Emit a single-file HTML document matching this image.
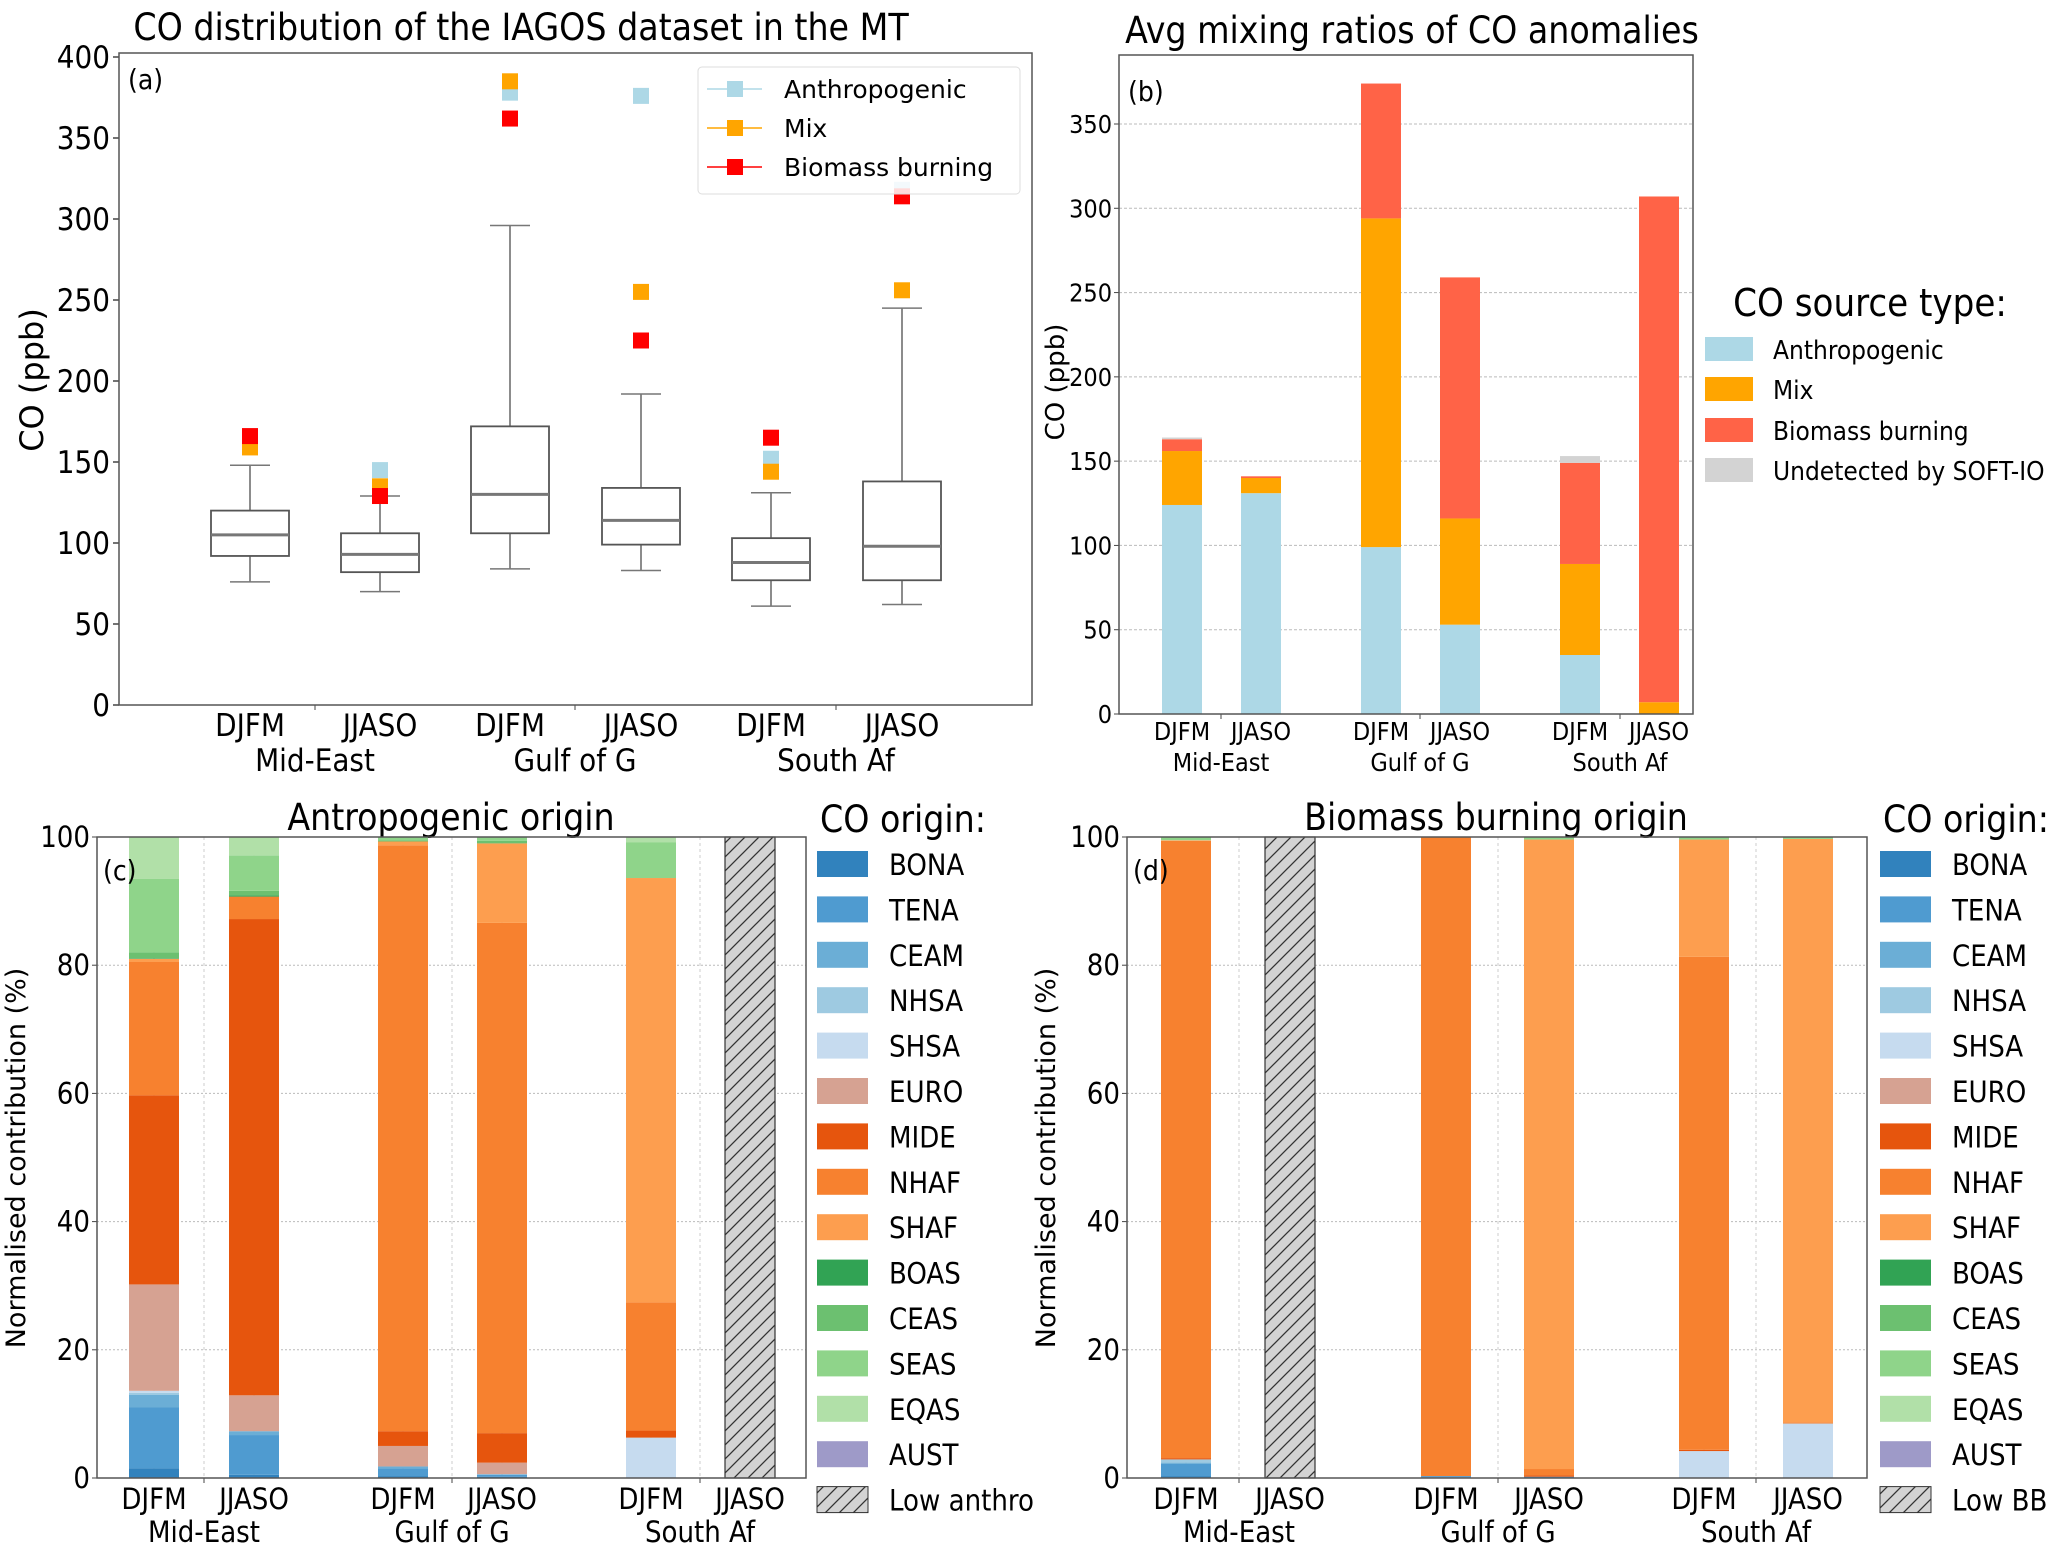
<!DOCTYPE html>
<html><head><meta charset="utf-8"><style>
html,body{margin:0;padding:0;background:#fff;}
svg{display:block;}
text{font-family:"Liberation Sans Narrow","DejaVu Sans Condensed","Liberation Sans",sans-serif;fill:#000;}
.dv{font-family:"DejaVu Sans","Liberation Sans",sans-serif;}
</style></head><body>
<svg id="fig" width="2067" height="1559" viewBox="0 0 2067 1559" xmlns="http://www.w3.org/2000/svg">
<defs>
<pattern id="hatch" patternUnits="userSpaceOnUse" width="14" height="14" patternTransform="rotate(0)">
<rect width="14" height="14" fill="#d3d3d3"/>
<path d="M-2,16 L16,-2 M-9,9 L9,-9 M5,23 L23,5" stroke="#333" stroke-width="1.3"/>
</pattern>
</defs>
<g id="pa"></g>
<g id="pb"></g>
<g id="pc"></g>
<g id="pd"></g>
</svg>
<script>
// ---------- shared data ----------
const categories = ["DJFM","JJASO","DJFM","JJASO","DJFM","JJASO"];
const groups = ["Mid-East","Gulf of G","South Af"];
// Panel a: box stats
const boxWhiskLow = [76,70,84,83,61,62];
const boxQ1 = [92,82,106,99,77,77];
const boxMedian = [105,93,130,114,88,98];
const boxQ3 = [120,106,172,134,103,138];
const boxWhiskHigh = [148,129,296,192,131,245];
const outAnthro = [null,145,378,376,152,318];
const outMix = [159,135,385,255,144,256];
const outBB = [166,129,362,225,165,314];
const aTicks = [0,50,100,150,200,250,300,350,400];
// Panel b
const bAnthro = [124,131,99,53,35,0];
const bMix = [32,9,195,63,54,7];
const bBB = [7,1,80,143,60,300];
const bUndet = [1,0,0,0,4,0];
const bTicks = [0,50,100,150,200,250,300,350];
// Panels c, d
const regions = ["BONA","TENA","CEAM","NHSA","SHSA","EURO","MIDE","NHAF","SHAF","BOAS","CEAS","SEAS","EQAS","AUST"];
const regionColors = ["#3182bd","#4f9bd0","#6baed6","#9ecae1","#c6dbef","#d6a292","#e6550d","#f7812f","#fd9e4f","#31a354","#6cc070","#8fd48a","#b1e0a8","#9e9ac8"];
const cShares = [
 [1.5,9.5,2.0,0.3,0.3,16.6,29.5,20.8,0.5,0.1,0.9,11.5,6.5,0],
 [0.5,6.2,0.6,0,0,5.6,74.3,3.5,0,0.2,0.7,5.5,2.9,0],
 [0.3,1.2,0.3,0,0,3.2,2.3,91.4,0.6,0,0.2,0.5,0,0],
 [0.2,0.3,0.1,0,0,1.8,4.6,79.6,12.4,0,0.4,0.6,0,0],
 [0,0,0,0,6.3,0,1.1,20,66.2,0,0,5.6,0.8,0],
 null
];
const dShares = [
 [0.3,1.9,0.2,0.5,0,0,0.2,96.3,0.1,0,0,0.5,0,0],
 null,
 [0.1,0.2,0,0,0,0,0,99.7,0,0,0,0,0,0],
 [0,0.2,0,0,0,0,0.2,1.0,98.2,0,0,0.4,0,0],
 [0,0,0,0,4.2,0,0.2,76.9,18.3,0,0,0.4,0,0],
 [0,0,0,0,8.5,0,0,0.2,91.0,0,0,0.3,0,0]
];
const pctTicks = [0,20,40,60,80,100];

const NS="http://www.w3.org/2000/svg";
function mk(parent,tag,attrs,txt){const e=document.createElementNS(NS,tag);for(const k in attrs)e.setAttribute(k,attrs[k]);if(txt!==undefined)e.textContent=txt;parent.appendChild(e);return e;}

// ---------- Panel A ----------
(function(){
 const g=document.getElementById('pa');
 const L=119,R=1032,T=53,B=705;
 const y=v=>B-(v/400)*(B-57);
 const xs=[250,380,510,641,771,902];
 let t=mk(g,'text',{x:521,y:40,'font-size':37,'text-anchor':'middle'},'CO distribution of the IAGOS dataset in the MT');
 
 aTicks.forEach(v=>{
  const l=mk(g,'line',{x1:L-6,x2:L,y1:y(v),y2:y(v),stroke:'#444','stroke-width':1.5});
  
  const tx=mk(g,'text',{x:L-9,y:y(v)+11,'font-size':31,'text-anchor':'end'},v);
  
 });
 t=mk(g,'text',{x:43,y:380,'font-size':32,'text-anchor':'middle',class:'dv',transform:'rotate(-90 43 380)'},'CO (ppb)');
 
 [315,575,836].forEach(x=>{const l=mk(g,'line',{x1:x,x2:x,y1:B,y2:B+5,stroke:'#444'});});
 categories.forEach((c,i)=>{
  const x=xs[i],w=78;
  const box=mk(g,'g',{});
  mk(box,'line',{x1:x,x2:x,y1:y(boxWhiskLow[i]),y2:y(boxQ1[i]),stroke:'#666','stroke-width':1.5});
  mk(box,'line',{x1:x,x2:x,y1:y(boxQ3[i]),y2:y(boxWhiskHigh[i]),stroke:'#666','stroke-width':1.5});
  mk(box,'line',{x1:x-20,x2:x+20,y1:y(boxWhiskLow[i]),y2:y(boxWhiskLow[i]),stroke:'#777','stroke-width':1.5});
  mk(box,'line',{x1:x-20,x2:x+20,y1:y(boxWhiskHigh[i]),y2:y(boxWhiskHigh[i]),stroke:'#777','stroke-width':1.5});
  mk(box,'rect',{x:x-w/2,y:y(boxQ3[i]),width:w,height:y(boxQ1[i])-y(boxQ3[i]),fill:'none',stroke:'#555','stroke-width':1.8});
  mk(box,'line',{x1:x-w/2,x2:x+w/2,y1:y(boxMedian[i]),y2:y(boxMedian[i]),stroke:'#777','stroke-width':3});
  [[outAnthro,'#add8e6','outlier-anthropogenic'],[outMix,'#ffa500','outlier-mix'],[outBB,'#ff0000','outlier-biomass']].forEach(o=>{
   const v=o[0][i]; if(v===null) return;
   const r=mk(g,'rect',{x:x-8,y:y(v)-8,width:16,height:16,fill:o[1]});
   
  });
  const lt=mk(g,'text',{x:x,y:736,'font-size':31,'text-anchor':'middle'},c);
  
 });
 [[315,'Mid-East'],[575,'Gulf of G'],[836,'South Af']].forEach((q,k)=>{
  const lt=mk(g,'text',{x:q[0],y:771,'font-size':31,'text-anchor':'middle'},groups[k]);
  
 });
 const fr=mk(g,'rect',{x:L,y:T,width:R-L,height:B-T,fill:'none',stroke:'#555','stroke-width':1.5});
 
 t=mk(g,'text',{x:128,y:89,'font-size':28},'(a)');
 const lg=mk(g,'g',{});
 mk(lg,'rect',{x:698,y:67,width:322,height:127,rx:4,fill:'#fff','fill-opacity':0.85,stroke:'#ddd'});
 [['Anthropogenic','#add8e6',89],['Mix','#ffa500',128],['Biomass burning','#ff0000',167]].forEach(e=>{
  const en=mk(lg,'g',{});
  mk(en,'line',{x1:707,x2:762,y1:e[2],y2:e[2],stroke:e[1],'stroke-width':1.5});
  mk(en,'rect',{x:727,y:e[2]-8,width:16,height:16,fill:e[1]});
  mk(en,'text',{x:784,y:e[2]+9,'font-size':25,class:'dv'},e[0]);
 });
})();

// ---------- Panel B ----------
(function(){
 const g=document.getElementById('pb');
 const L=1119,R=1693,T=55,B=714;
 const y=v=>B-v*(590/350);
 const xs=[1182,1261,1381,1460,1580,1659];
 let t=mk(g,'text',{x:1412,y:43,'font-size':37,'text-anchor':'middle'},'Avg mixing ratios of CO anomalies');
 
 bTicks.forEach(v=>{
  if(v>0){const gl=mk(g,'line',{x1:L,x2:R,y1:y(v),y2:y(v),stroke:'#bbb','stroke-dasharray':'3,2','stroke-width':1});}
  const l=mk(g,'line',{x1:L-5,x2:L,y1:y(v),y2:y(v),stroke:'#444'});
  const tx=mk(g,'text',{x:L-7,y:y(v)+9,'font-size':25,'text-anchor':'end'},v);
  
 });
 t=mk(g,'text',{x:1064,y:382,'font-size':26,'text-anchor':'middle',class:'dv',transform:'rotate(-90 1064 382)'},'CO (ppb)');
 
 const series=[[bAnthro,'#add8e6','bar-anthropogenic'],[bMix,'#ffa500','bar-mix'],[bBB,'#ff6347','bar-biomass'],[bUndet,'#d3d3d3','bar-undetected']];
 categories.forEach((c,i)=>{
  let acc=0;const x=xs[i],w=40;
  series.forEach(s=>{
   const v=s[0][i]; if(v>0){
    const r=mk(g,'rect',{x:x-w/2,y:y(acc+v),width:w,height:y(acc)-y(acc+v),fill:s[1]});
    
   } acc+=v;
  });
  const lt=mk(g,'text',{x:x,y:740,'font-size':25,'text-anchor':'middle'},c);
  
 });
 [1221,1420,1620].forEach(x=>{const l=mk(g,'line',{x1:x,x2:x,y1:B,y2:B+5,stroke:'#444'});});
 [[1221,0],[1420,1],[1620,2]].forEach(q=>{
  const lt=mk(g,'text',{x:q[0],y:771,'font-size':25,'text-anchor':'middle'},groups[q[1]]);
  
 });
 const fr=mk(g,'rect',{x:L,y:T,width:R-L,height:B-T,fill:'none',stroke:'#555','stroke-width':1.5});
 
 t=mk(g,'text',{x:1128,y:101,'font-size':28},'(b)');
 const lg=mk(g,'g',{});
 t=mk(lg,'text',{x:1870,y:316,'font-size':38,'text-anchor':'middle'},'CO source type:');
 [['Anthropogenic','#add8e6',349],['Mix','#ffa500',389],['Biomass burning','#ff6347',430],['Undetected by SOFT-IO','#d3d3d3',470]].forEach(e=>{
  const en=mk(lg,'g',{});
  mk(en,'rect',{x:1705,y:e[2]-12,width:48,height:24,fill:e[1]});
  mk(en,'text',{x:1773,y:e[2]+10,'font-size':26},e[0]);
 });
})();

// ---------- Panels C & D ----------
function pctPanel(id,data,L,R,xs,seps,title,titleX,lgX,lowLabel,tag,groupX){
 const g=document.getElementById(id);
 const T=837,B=1478,w=50;
 const y=v=>B-(v/100)*(B-T);
 let t=mk(g,'text',{x:titleX,y:830,'font-size':37,'text-anchor':'middle'},title);
 
 pctTicks.forEach(v=>{
  if(v>0&&v<100){const gl=mk(g,'line',{x1:L,x2:R,y1:y(v),y2:y(v),stroke:'#bbb','stroke-dasharray':'2,2'});}
  const l=mk(g,'line',{x1:L-5,x2:L,y1:y(v),y2:y(v),stroke:'#444'});
  const tx=mk(g,'text',{x:L-7,y:y(v)+10,'font-size':29,'text-anchor':'end'},v);
  
 });
 xs.concat(seps).forEach(x=>{const gl=mk(g,'line',{x1:x,x2:x,y1:T,y2:B,stroke:'#ccc','stroke-dasharray':'3,3'});});
 const yl=L-72;
 t=mk(g,'text',{x:yl,y:1158,'font-size':27,'text-anchor':'middle',class:'dv',transform:'rotate(-90 '+yl+' 1158)'},'Normalised contribution (%)');
 
 categories.forEach((c,i)=>{
  const x=xs[i];
  if(data[i]===null){
   const r=mk(g,'rect',{x:x-w/2,y:y(100),width:w,height:y(0)-y(100),fill:'url(#hatch)',stroke:'#333','stroke-width':1.2});
   
  } else {
   let acc=0;
   data[i].forEach((v,k)=>{
    if(v>0){const r=mk(g,'rect',{x:x-w/2,y:y(acc+v),width:w,height:y(acc)-y(acc+v),fill:regionColors[k]});
     }
    acc+=v;
   });
  }
  const lt=mk(g,'text',{x:x,y:1509,'font-size':29,'text-anchor':'middle'},c);
  
 });
 seps.forEach(x=>{const l=mk(g,'line',{x1:x,x2:x,y1:B,y2:B+5,stroke:'#444'});});
 groupX.forEach((x,k)=>{
  const lt=mk(g,'text',{x:x,y:1542,'font-size':29,'text-anchor':'middle'},groups[k]);
  
 });
 const fr=mk(g,'rect',{x:L,y:T,width:R-L,height:B-T,fill:'none',stroke:'#555','stroke-width':1.5});
 
 t=mk(g,'text',{x:L+6,y:880,'font-size':28},'('+tag.slice(-1)+')');
 const lg=mk(g,'g',{});
 mk(lg,'text',{x:lgX+86,y:832,'font-size':37,'text-anchor':'middle'},'CO origin:');
 regions.concat([lowLabel]).forEach((r,k)=>{
  const yy=864+k*45.4;
  const en=mk(lg,'g',{});
  mk(en,'rect',{x:lgX,y:yy-13,width:51,height:26,fill:k<14?regionColors[k]:'url(#hatch)',stroke:k<14?'none':'#333'});
  mk(en,'text',{x:lgX+72,y:yy+11,'font-size':29},r);
 });
}
pctPanel('pc',cShares,97,806,[154,254,403,502,651,750],[204,452,700],'Antropogenic origin',451,817,'Low anthro','panel-c',[204,452,700]);
pctPanel('pd',dShares,1127,1867,[1186,1290,1446,1549,1704,1808],[1239,1498,1756],'Biomass burning origin',1496,1880,'Low BB','panel-d',[1239,1498,1756]);
</script>
</body></html>
